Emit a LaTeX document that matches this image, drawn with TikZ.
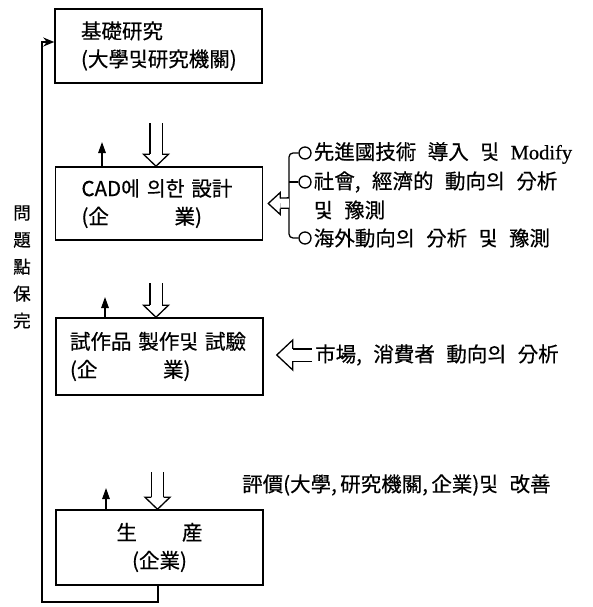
\documentclass[tikz,border=0pt]{standalone}
\usepackage{fontspec}
\setmainfont{Noto Sans CJK KR}[WordSpace=2.5, FakeBold=0.5]
\newfontfamily\romanfont{Liberation Serif}[FakeBold=0.5]
\usetikzlibrary{arrows.meta}
\tikzset{
  stage/.style={draw, line width=1.5pt, minimum width=207pt, text width=155pt,
    inner xsep=26pt, inner ysep=0pt, align=left, font=\fontsize{20.5}{28}\selectfont},
  shafts/.style={double, double distance=11pt, line width=1.3pt},
  pics/head/.style n args={3}{code={
    \draw[line width=1.3pt, line join=miter] (-#1,#2) -- (-#1,#3) -- (0,0) -- (-#1,-#3) -- (-#1,-#2);}},
  riser/.style={line width=1.4pt, -{Triangle[width=7.5pt,length=11pt]}},
  loopback/.style={line width=1.5pt, -{Stealth[width=9pt,length=11pt]}},
  dot/.style={draw, circle, line width=1.3pt, minimum size=12pt, inner sep=0pt},
  side/.style={anchor=west, inner sep=2pt, font=\fontsize{20.5}{28}\selectfont},
}
\begin{document}
\begin{tikzpicture}[x=1pt, y=-1pt]
  \useasboundingbox (0,0) rectangle (593,607);
  % stages
  \node[stage, minimum height=74pt] (basic) at (158.5,46) {基礎研究\\(大學및研究機關)};
  \node[stage, minimum height=73pt] (cad) at (159,203.5) {CAD에 의한 設計\\(企\hspace{3.2em}業)};
  \node[stage, minimum height=77pt, inner xsep=14pt, text width=179pt] (proto) at (159.5,356.5) {試作品 製作및 試驗\\(企\hspace{3.2em}業)};
  \node[stage, minimum height=75pt, align=center] (prod) at (159.5,547.5) {生\hspace{2.2em}産\\(企業)};
  % flow down
  \coordinate (d1) at (156,123);
  \coordinate (d2) at (156,283);
  \coordinate (d3) at (157.5,472);
  \draw[shafts, shorten >=12pt] (d1) -- (cad.north -| d1);
  \draw[shafts, shorten >=12pt] (d2) -- (proto.north -| d2);
  \draw[shafts, shorten >=12pt] (d3) -- (prod.north -| d3);
  \pic[rotate=-90] at (cad.north -| d1) {head={12}{6.15}{12.5}};
  \pic[rotate=-90] at (proto.north -| d2) {head={12}{6.15}{12.5}};
  \pic[rotate=-90] at (prod.north -| d3) {head={12}{6.15}{12.5}};
  % small arrows up
  \coordinate (u1) at (102,142);
  \coordinate (u2) at (105,297);
  \coordinate (u3) at (106,488);
  \draw[riser] (cad.north -| u1) -- (u1);
  \draw[riser] (proto.north -| u2) -- (u2);
  \draw[riser] (prod.north -| u3) -- (u3);
  % feedback
  \coordinate (corner) at (42,602);
  \draw[loopback] ([xshift=-1.5pt]prod.south) |- (corner) |- ([yshift=4pt]basic.west);
  \node[align=center, inner sep=0pt, font=\fontsize{17.5}{27}\selectfont] (issue) at (22,267) {問\\題\\點\\保\\完};
  % inputs to CAD
  \node[dot] (o1) at (305,153) {};
  \node[dot] (o2) at (305,182) {};
  \node[dot] (o3) at (305,238) {};
  \node[side] (t1) at (o1.east) {先進國技術 導入 및 {\romanfont Modify}};
  \node[side] (t2) at (o2.east) {社會, 經濟的 動向의 分析};
  \node[side] (t2b) at ([yshift=-28pt]t2.west) {및 豫測};
  \node[side] (t3) at (o3.east) {海外動向의 分析 및 豫測};
  \coordinate (fork) at (289,203);
  \draw[line width=1.3pt, rounded corners=4pt] (o1.west) -| (fork) |- (o3.west);
  \draw[line width=1.3pt] (o2.west) -- (o2.west -| fork);
  \draw[shafts, double distance=9pt, shorten >=12pt] (fork) -- ([xshift=5pt]cad.east);
  \pic[rotate=180] at ([xshift=5pt]cad.east) {head={12}{5.15}{11}};
  % market
  \node[side, inner sep=0pt] (market) at (315,355) {市場, 消費者 動向의 分析};
  \draw[shafts, shorten >=16pt] ([xshift=-3pt]market.west) -- ([xshift=13pt]proto.east |- market.west);
  \pic[rotate=180] at ([xshift=13pt]proto.east |- market.west) {head={16}{6.15}{15}};
  % review
  \node[side, inner sep=0pt] (review) at (242,485) {評價(大學,\,研究機關,\,企業)및 改善};
\end{tikzpicture}
\end{document}
